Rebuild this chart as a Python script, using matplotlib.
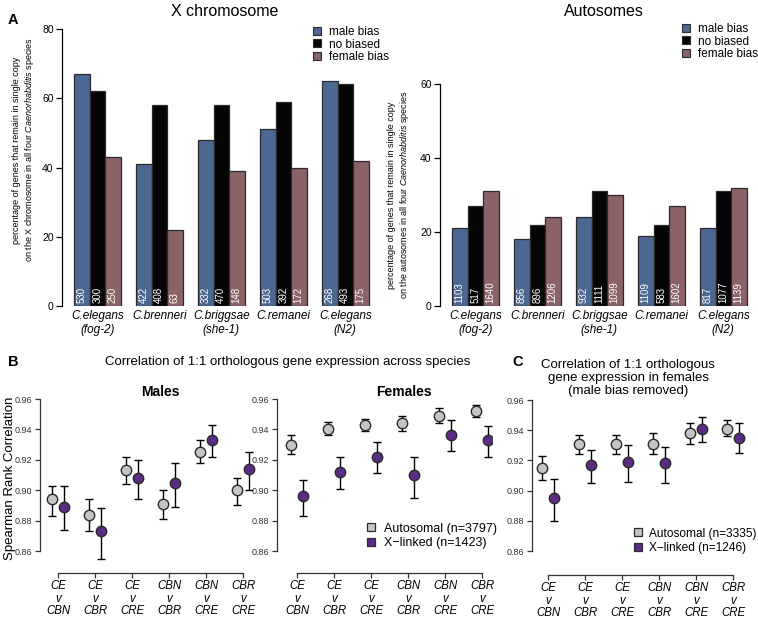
import numpy as np
import matplotlib
matplotlib.use("Agg")
import matplotlib.pyplot as plt
from matplotlib.lines import Line2D

plt.rcParams['font.family'] = ['Liberation Sans', 'DejaVu Sans']
plt.rcParams['mathtext.fontset'] = 'custom'
plt.rcParams['mathtext.it'] = 'Liberation Sans:italic'
plt.rcParams['mathtext.rm'] = 'Liberation Sans'

# --- panel A data (percent of genes, and gene counts) ---
species = ["C.elegans\n(fog-2)", "C.brenneri", "C.briggsae\n(she-1)", "C.remanei", "C.elegans\n(N2)"]
bias_labels = ["male bias", "no biased", "female bias"]

x_male = [67, 41, 48, 51, 65]
x_nobias = [62, 58, 58, 59, 64]
x_female = [43, 22, 39, 40, 42]
x_male_n = [530, 422, 332, 503, 268]
x_nobias_n = [300, 408, 470, 392, 493]
x_female_n = [250, 63, 148, 172, 175]

a_male = [21, 18, 24, 19, 21]
a_nobias = [27, 22, 31, 22, 31]
a_female = [31, 24, 30, 27, 32]
a_male_n = [1103, 856, 932, 1109, 817]
a_nobias_n = [517, 896, 1111, 583, 1077]
a_female_n = [1640, 1206, 1099, 1602, 1139]

# --- panel B / C data (Spearman rank correlation, lower / upper) ---
pairs = ["CE\nv\nCBN", "CE\nv\nCBR", "CE\nv\nCRE", "CBN\nv\nCBR", "CBN\nv\nCRE", "CBR\nv\nCRE"]

m_auto = [0.894, 0.884, 0.913, 0.891, 0.925, 0.900]
m_auto_lo = [0.883, 0.873, 0.904, 0.881, 0.918, 0.890]
m_auto_hi = [0.903, 0.894, 0.922, 0.900, 0.933, 0.908]
m_xl = [0.889, 0.873, 0.908, 0.905, 0.933, 0.914]
m_xl_lo = [0.874, 0.855, 0.894, 0.889, 0.922, 0.900]
m_xl_hi = [0.903, 0.888, 0.920, 0.918, 0.943, 0.925]

f_auto = [0.930, 0.940, 0.943, 0.944, 0.949, 0.952]
f_auto_lo = [0.924, 0.936, 0.939, 0.939, 0.944, 0.948]
f_auto_hi = [0.936, 0.945, 0.947, 0.949, 0.954, 0.956]
f_xl = [0.896, 0.912, 0.922, 0.910, 0.936, 0.933]
f_xl_lo = [0.883, 0.901, 0.911, 0.895, 0.926, 0.922]
f_xl_hi = [0.907, 0.922, 0.932, 0.922, 0.946, 0.942]

c_auto = [0.915, 0.931, 0.931, 0.931, 0.938, 0.941]
c_auto_lo = [0.907, 0.924, 0.924, 0.924, 0.931, 0.936]
c_auto_hi = [0.923, 0.937, 0.937, 0.938, 0.945, 0.947]
c_xl = [0.895, 0.917, 0.919, 0.918, 0.941, 0.935]
c_xl_lo = [0.880, 0.905, 0.906, 0.905, 0.932, 0.925]
c_xl_hi = [0.908, 0.927, 0.930, 0.929, 0.949, 0.945]

col_male = "#4b6792"
col_nob = "#050505"
col_fem = "#8b6266"
col_auto = "#c4c4c4"
col_xl = "#5b2c83"
edge = "#2b2b2b"

W, H = 758, 618
fig = plt.figure(figsize=(W / 100, H / 100), dpi=100)


def box(l, t, r, b):
    return [l / W, 1 - b / H, (r - l) / W, (b - t) / H]


def bar_panel(ax, vals, counts, ymax, spine_px, start_px, right_px):
    bw = 15.5  # bar width in px
    ax.set_xlim(-(start_px - spine_px) / bw, (right_px - start_px) / bw)
    ax.set_ylim(0, ymax)
    g = np.arange(5) * 4
    for j, (v, n, c) in enumerate(zip(vals, counts, [col_male, col_nob, col_fem])):
        xs = g + j + 0.5
        ax.bar(xs, v, width=1, color=c, edgecolor=edge, linewidth=0.9)
        for xx, nn in zip(xs, n):
            ax.text(xx, ymax * 0.012, str(nn), rotation=90, ha="center", va="bottom",
                    color="white", fontsize=7)
    for s in ["top", "right", "bottom"]:
        ax.spines[s].set_visible(False)
    ax.spines["left"].set_bounds(0, ymax)
    ax.spines["left"].set_linewidth(0.9)
    ax.set_yticks(np.arange(0, ymax + 1, 20))
    ax.tick_params(axis="y", labelsize=7.5, length=4, width=0.9, pad=2)
    ax.set_xticks(g + 1.5)
    ax.set_xticklabels(species, fontsize=8.5, fontstyle="italic", linespacing=1.15)
    ax.tick_params(axis="x", length=0, pad=3)
    handles = [Line2D([], [], ls="none", marker="s", ms=6, mfc=c, mec=edge, mew=0.8)
               for c in [col_male, col_nob, col_fem]]
    return handles


# panel A, X chromosome
axA1 = fig.add_axes(box(62, 29, 382, 306))
h = bar_panel(axA1, [x_male, x_nobias, x_female], [x_male_n, x_nobias_n, x_female_n], 80, 62, 74, 382)
fig.legend(h, bias_labels, loc="upper left", bbox_to_anchor=(312 / W, 1 - 26 / H), frameon=False,
           fontsize=8.5, handlelength=0.8, handletextpad=0.6, labelspacing=0.05, borderpad=0,
           borderaxespad=0)
fig.text(225 / W, 1 - 12 / H, "X chromosome", ha="center", va="center", fontsize=11.5)
fig.text(24 / W, 1 - 150 / H,
         "percentage of genes that remain in single copy\non the X chromosome in all four "
         r"$\mathit{Caenorhabditis}$ species",
         rotation=90, ha="center", va="center", fontsize=6.5, multialignment="center")

# panel A, autosomes
axA2 = fig.add_axes(box(440, 84, 752, 306))
h = bar_panel(axA2, [a_male, a_nobias, a_female], [a_male_n, a_nobias_n, a_female_n], 60, 440, 452, 752)
fig.legend(h, bias_labels, loc="upper left", bbox_to_anchor=(681 / W, 1 - 23 / H), frameon=False,
           fontsize=8.5, handlelength=0.8, handletextpad=0.6, labelspacing=0.05, borderpad=0,
           borderaxespad=0)
fig.text(604 / W, 1 - 12 / H, "Autosomes", ha="center", va="center", fontsize=11.5)
fig.text(399 / W, 1 - 195 / H,
         "percentage of genes that remain in single copy\non the autosomes in all four "
         r"$\mathit{Caenorhabditis}$ species",
         rotation=90, ha="center", va="center", fontsize=6.5, multialignment="center")

fig.text(8 / W, 1 - 20 / H, "A", fontsize=10.5, fontweight="bold", ha="left", va="center")


def corr_panel(ax, spine_px, first_px, right_px, top_px, bot_px, zero_px, auto, alo, ahi, xl, xlo, xhi):
    step = 37.0
    ax.set_xlim(-(first_px - spine_px) / step, (right_px - first_px) / step)
    scale = 0.1 / (zero_px - top_px)
    ax.set_ylim(0.96 - (bot_px - top_px) * scale, 0.96)
    xs = np.arange(6)
    off = 0.16
    auto, alo, ahi = map(np.array, (auto, alo, ahi))
    xl, xlo, xhi = map(np.array, (xl, xlo, xhi))
    ax.errorbar(xs - off, auto, yerr=[auto - alo, ahi - auto], fmt="o", ms=7.5, mfc=col_auto,
                mec=edge, mew=1, ecolor="black", elinewidth=1, capsize=3, capthick=1, zorder=3)
    ax.errorbar(xs + off, xl, yerr=[xl - xlo, xhi - xl], fmt="o", ms=7.5, mfc=col_xl,
                mec=edge, mew=1, ecolor="black", elinewidth=1, capsize=3, capthick=1, zorder=3)
    for s in ["top", "right"]:
        ax.spines[s].set_visible(False)
    ax.spines["left"].set_bounds(0.86, 0.96)
    ax.spines["bottom"].set_bounds(0, 5)
    for s in ["left", "bottom"]:
        ax.spines[s].set_linewidth(0.9)
        ax.spines[s].set_color("#333333")
    ax.set_yticks([0.86, 0.88, 0.90, 0.92, 0.94, 0.96])
    ax.set_yticklabels(["0.86", "0.88", "0.90", "0.92", "0.94", "0.96"])
    ax.tick_params(axis="y", labelsize=6.5, length=3.5, width=0.9, pad=2, colors="#333333")
    ax.set_xticks(xs)
    ax.set_xticklabels(pairs, fontsize=8.3, fontstyle="italic", linespacing=1.08)
    ax.tick_params(axis="x", length=3.5, width=0.9, pad=1.5, colors="#333333")
    for t in ax.get_xticklabels():
        t.set_color("black")
    ax.patch.set_visible(False)


leg_h = [Line2D([], [], ls="none", marker="s", ms=6, mfc=c, mec=edge, mew=0.9) for c in [col_auto, col_xl]]

# panel B, males
axM = fig.add_axes(box(40, 399, 255, 573))
corr_panel(axM, 40, 58, 255, 399, 573, 551, m_auto, m_auto_lo, m_auto_hi, m_xl, m_xl_lo, m_xl_hi)
fig.text(160 / W, 1 - 392 / H, "Males", ha="center", va="center", fontsize=10, fontweight="bold")
fig.text(10 / W, 1 - 478 / H, "Spearman Rank Correlation", rotation=90, ha="center", va="center",
         fontsize=9.5)

# panel B, females
axF = fig.add_axes(box(277, 399, 492, 573))
corr_panel(axF, 277, 297, 492, 399, 573, 551, f_auto, f_auto_lo, f_auto_hi, f_xl, f_xl_lo, f_xl_hi)
fig.text(404 / W, 1 - 392 / H, "Females", ha="center", va="center", fontsize=10, fontweight="bold")
axF.legend(leg_h, ["Autosomal (n=3797)", "X\u2212linked (n=1423)"], loc="center left",
           bbox_to_anchor=(366 / W, 1 - 536 / H), bbox_transform=fig.transFigure, frameon=False,
           fontsize=9, handlelength=0.8, handletextpad=0.6, labelspacing=0.2, borderpad=0,
           borderaxespad=0)

fig.text(8 / W, 1 - 362 / H, "B", fontsize=10.5, fontweight="bold", ha="left", va="center")
fig.text(288 / W, 1 - 362 / H, "Correlation of 1:1 orthologous gene expression across species",
         ha="center", va="center", fontsize=9.5)

# panel C, females with male bias removed
axC = fig.add_axes(box(532, 400, 752, 575))
corr_panel(axC, 532, 548, 752, 400, 575, 551, c_auto, c_auto_lo, c_auto_hi, c_xl, c_xl_lo, c_xl_hi)
axC.legend(leg_h, ["Autosomal (n=3335)", "X\u2212linked (n=1246)"], loc="center left",
           bbox_to_anchor=(633 / W, 1 - 541 / H), bbox_transform=fig.transFigure, frameon=False,
           fontsize=8.6, handlelength=0.8, handletextpad=0.5, labelspacing=0.25, borderpad=0,
           borderaxespad=0)
fig.text(512 / W, 1 - 362 / H, "C", fontsize=10.5, fontweight="bold", ha="left", va="center")
fig.text(628 / W, 1 - 378 / H, "Correlation of 1:1 orthologous\ngene expression in females\n(male bias removed)",
         ha="center", va="center", fontsize=9.5, linespacing=1.15)

fig.savefig("out.png", dpi=100)
